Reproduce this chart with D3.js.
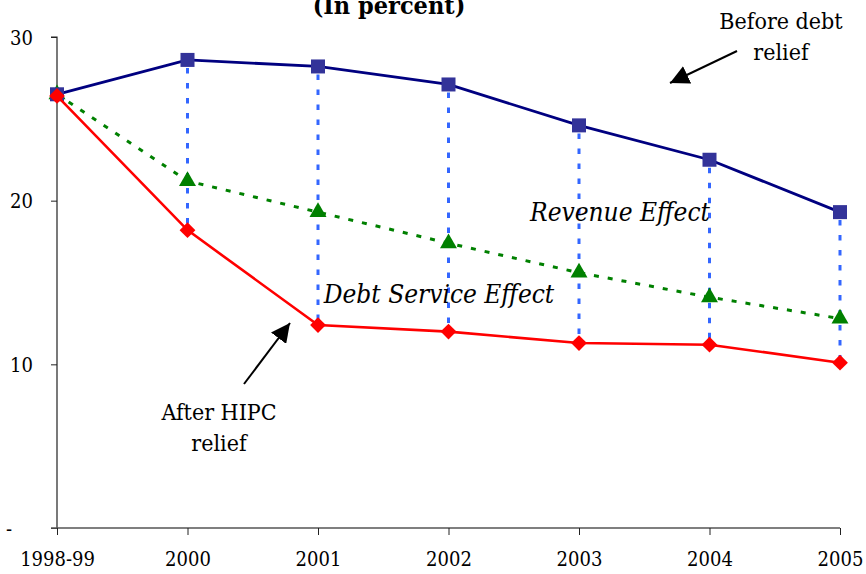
<!DOCTYPE html>
<html><head><meta charset="utf-8">
<script src="https://cdn.jsdelivr.net/npm/d3@7"></script>
<style>
html,body{margin:0;padding:0;background:#fff;}
svg{display:block;}
text{font-family:"DejaVu Serif Condensed","DejaVu Serif",serif;font-stretch:condensed;fill:#000;}
</style></head>
<body>
<script>
const categories = ["1998-99","2000","2001","2002","2003","2004","2005"];
const beforeRelief = [26.5,28.6,28.2,27.1,24.6,22.5,19.3];
const revenueLine = [26.5,21.2,19.3,17.4,15.6,14.1,12.8];
const afterRelief = [26.4,18.2,12.4,12.0,11.3,11.2,10.1];
const yTicks = [0,10,20,30];
const yTickLabels = ["-","10","20","30"];

const W=866,H=574;
const FONT='"DejaVu Serif Condensed","DejaVu Serif",serif';
const svg=d3.select("body").append("svg").attr("width",W).attr("height",H);

const x=d3.scalePoint().domain(categories).range([57,840]);
const y=d3.scaleLinear().domain([0,30]).range([528,37]);

// title (cut at top, as in the reference)
svg.append("text").attr("x",389).attr("y",14).attr("text-anchor","middle")
  .attr("font-size",25).attr("font-weight","bold").text("(In percent)");

// axes
const yAxis=d3.axisLeft(y).tickValues(yTicks).tickSize(6).tickFormat((d,i)=>yTickLabels[i]);
const gy=svg.append("g").attr("transform","translate(57,0)").call(yAxis);
gy.select(".domain").attr("stroke","#222").attr("stroke-width",1.2).attr("d","M-6,37H0V528");
gy.selectAll(".tick line").attr("stroke","#222");
gy.selectAll(".tick text").attr("font-size",20).attr("font-family",FONT).attr("fill","#000").attr("x",-24).attr("dy","0.35em");
gy.selectAll(".tick").filter(d=>d===0).select("text").attr("x",-51).attr("text-anchor","start");

const xAxis=d3.axisBottom(x).tickSize(7).tickSizeOuter(0);
const gx=svg.append("g").attr("transform","translate(0,528)").call(xAxis);
gx.select(".domain").attr("stroke","#555").attr("stroke-width",1.4).attr("d","M51,0H840");
gx.selectAll(".tick line").attr("stroke","#222");
gx.selectAll(".tick text").attr("font-size",20).attr("font-family",FONT).attr("fill","#000").attr("y",38).attr("dy",0);

// vertical dashed connectors
svg.append("g").selectAll("line").data(categories.slice(1)).join("line")
  .attr("x1",d=>x(d)).attr("x2",d=>x(d))
  .attr("y1",d=>y(beforeRelief[categories.indexOf(d)])+8)
  .attr("y2",d=>y(afterRelief[categories.indexOf(d)]))
  .attr("stroke","#3366ff").attr("stroke-width",3).attr("stroke-dasharray","5.5,9.5");

const line=d3.line().x((d,i)=>x(categories[i])).y(d=>y(d));

// green dotted
svg.append("path").datum(revenueLine).attr("d",line).attr("fill","none")
  .attr("stroke","#008000").attr("stroke-width",3).attr("stroke-dasharray","5,9");
svg.append("g").selectAll("path").data(revenueLine).join("path")
  .attr("transform",(d,i)=>`translate(${x(categories[i])},${y(d)})`)
  .attr("d",d3.symbol(d3.symbolTriangle,125)()).attr("fill","#008000");

// blue
svg.append("path").datum(beforeRelief).attr("d",line).attr("fill","none")
  .attr("stroke","#000080").attr("stroke-width",2.8);
svg.append("g").selectAll("rect").data(beforeRelief).join("rect")
  .attr("x",(d,i)=>x(categories[i])-7).attr("y",d=>y(d)-7)
  .attr("width",14).attr("height",14).attr("fill","#333399");

// red
svg.append("path").datum(afterRelief).attr("d",line).attr("fill","none")
  .attr("stroke","#ff0000").attr("stroke-width",2.6);
svg.append("g").selectAll("path").data(afterRelief).join("path")
  .attr("transform",(d,i)=>`translate(${x(categories[i])},${y(d)}) rotate(45)`)
  .attr("d",d3.symbol(d3.symbolSquare,125)()).attr("fill","#ff0000");

// annotations
svg.append("text").attr("x",620).attr("y",221).attr("text-anchor","middle")
  .attr("font-size",26).attr("font-style","italic").text("Revenue Effect");
svg.append("text").attr("x",439).attr("y",303).attr("text-anchor","middle")
  .attr("font-size",26).attr("font-style","italic").text("Debt Service Effect");

function label(cx, lines, y0){
  lines.forEach((t,i)=>svg.append("text").attr("x",cx).attr("y",y0+i*31)
    .attr("text-anchor","middle").attr("font-size",23).text(t));
}
label(781,["Before debt","relief"],29);
label(219,["After HIPC","relief"],420);

svg.append("defs").append("marker").attr("id","ah").attr("viewBox","0 0 10 10")
  .attr("refX",10).attr("refY",5).attr("markerWidth",19).attr("markerHeight",19)
  .attr("markerUnits","userSpaceOnUse").attr("orient","auto")
  .append("path").attr("d","M0,0L10,5L0,10Z").attr("fill","#000");

svg.append("line").attr("x1",737).attr("y1",51).attr("x2",670).attr("y2",83)
  .attr("stroke","#000").attr("stroke-width",2).attr("marker-end","url(#ah)");
svg.append("line").attr("x1",244).attr("y1",384).attr("x2",290).attr("y2",323)
  .attr("stroke","#000").attr("stroke-width",2).attr("marker-end","url(#ah)");
</script>
</body></html>
